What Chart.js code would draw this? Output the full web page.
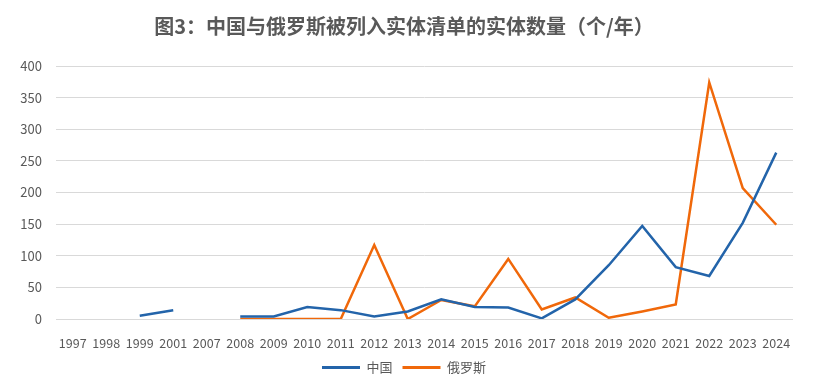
<!DOCTYPE html>
<html>
<head>
<meta charset="utf-8">
<script src="https://cdn.jsdelivr.net/npm/chart.js@4"></script>
<style>
  html, body { margin: 0; padding: 0; background: #fff; }
  #wrap { width: 828px; height: 384px; }
</style>
</head>
<body>
<div id="wrap"><canvas id="myChart" width="828" height="384"></canvas></div>
<script>
const years = ["1997", "1998", "1999", "2001", "2007", "2008", "2009", "2010", "2011", "2012",
  "2013", "2014", "2015", "2016", "2017", "2018", "2019", "2020", "2021", "2022", "2023", "2024"];
const chinaValues = [null, null, 5, 14, null, 4, 4, 19, 14, 4,
  12, 31, 19, 18, 1, 31, 85, 147, 82, 68, 152, 263];
const russiaValues = [null, null, null, null, null, 0, 0, 0, 0, 117,
  0, 30, 20, 95, 15, 34, 2, 12, 23, 374, 207, 149];
const seriesNames = ["中国", "俄罗斯"];
const yTicks = [0, 50, 100, 150, 200, 250, 300, 350, 400];

const textColor = "#595959";
const fontFamily = "'Noto Sans CJK SC', 'Noto Sans', sans-serif";

const ctx = document.getElementById("myChart").getContext("2d");

const config = {
  type: "line",
  data: {
    labels: years,
    datasets: [
      {
        label: seriesNames[0],
        data: chinaValues,
        borderColor: "#2364AA",
        backgroundColor: "#2364AA",
        borderWidth: 2.5,
        pointRadius: 0,
        tension: 0,
        spanGaps: false,
      },
      {
        label: seriesNames[1],
        data: russiaValues,
        borderColor: "#F0680A",
        backgroundColor: "#F0680A",
        borderWidth: 2.5,
        pointRadius: 0,
        tension: 0,
        spanGaps: false,
      },
    ],
  },
  options: {
    responsive: false,
    animation: false,
    layout: {
      padding: { left: 0, right: 20, top: 0, bottom: 0 },
    },
    plugins: {
      title: {
        display: true,
        text: "图3：中国与俄罗斯被列入实体清单的实体数量（个/年）",
        color: textColor,
        font: { family: fontFamily, size: 20, weight: "bold", lineHeight: 1.2 },
        padding: { top: 14, bottom: 28 },
      },
      legend: {
        display: true,
        position: "bottom",
        labels: {
          color: textColor,
          font: { family: fontFamily, size: 13 },
          boxWidth: 38,
          boxHeight: 3,
          padding: 10,
          generateLabels: function (chart) {
            return chart.data.datasets.map((ds, i) => ({
              text: ds.label,
              fillStyle: ds.borderColor,
              strokeStyle: ds.borderColor,
              lineWidth: 0,
              fontColor: textColor,
              datasetIndex: i,
              hidden: false,
            }));
          },
        },
      },
      tooltip: { enabled: false },
    },
    scales: {
      x: {
        offset: true,
        grid: { display: false },
        border: { display: false },
        ticks: {
          color: textColor,
          font: { family: fontFamily, size: 12.5 },
          padding: 9,
          maxRotation: 0,
          autoSkip: false,
        },
        afterFit: function (scale) {
          scale.height = 32;
        },
      },
      y: {
        min: 0,
        max: 400,
        afterBuildTicks: function (scale) {
          scale.ticks = yTicks.map(v => ({ value: v }));
        },
        grid: { color: "#D9D9D9", lineWidth: 1, drawTicks: false },
        border: { display: false },
        ticks: {
          color: textColor,
          font: { family: fontFamily, size: 13 },
          padding: 14,
        },
        afterFit: function (scale) {
          scale.width = 56;
        },
      },
      // empty right-hand strip so title and legend sit near their original spots
      yRight: {
        position: "right",
        min: 0,
        max: 400,
        grid: { display: false },
        border: { display: false },
        ticks: { display: false },
        afterFit: function (scale) {
          scale.width = 15;
        },
      },
    },
  },
};

const entityChart = new Chart(ctx, config);
</script>
</body>
</html>
